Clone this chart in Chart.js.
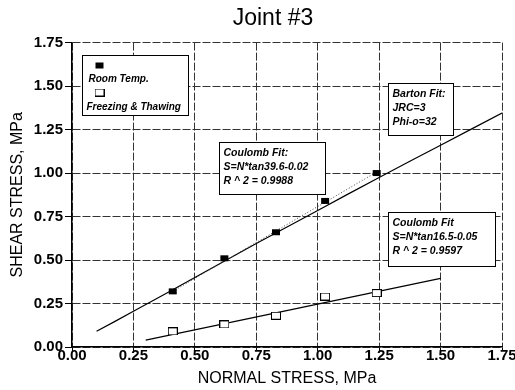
<!DOCTYPE html>
<html>
<head>
<meta charset="utf-8">
<script src="https://cdn.jsdelivr.net/npm/chart.js@4/dist/chart.umd.min.js"></script>
<style>
  html, body { margin: 0; padding: 0; background: #fff; }
  #wrap { width: 515px; height: 390px; }
</style>
</head>
<body>
<div id="wrap"><canvas id="chart" width="515" height="390"></canvas></div>
<script>
// === DATA (normal stress / shear stress, MPa) ===
const roomX = [0.41, 0.62, 0.83, 1.03, 1.24];
const roomY = [0.32, 0.51, 0.66, 0.84, 1.00];
const freezeX = [0.41, 0.62, 0.83, 1.03, 1.24];
const freezeY = [0.09, 0.13, 0.18, 0.29, 0.31];

// Barton fit (JRC=3, Phi-o=32)
const bartonX = [0.10, 0.25, 0.50, 0.75, 1.00, 1.25, 1.50, 1.75];
const bartonY = [0.09, 0.205, 0.40, 0.595, 0.785, 0.975, 1.16, 1.345];

// Coulomb fits
const coulomb1X = [0.41, 1.24];
const coulomb1Y = [0.32, 1.006];
const coulomb2X = [0.30, 1.50];
const coulomb2Y = [0.04, 0.395];

const tickValues = [0, 0.25, 0.5, 0.75, 1.0, 1.25, 1.5, 1.75];

const titleText = "Joint #3";
const xTitle = "NORMAL STRESS, MPa";
const yTitle = "SHEAR STRESS, MPa";
const legendLabels = ["Room Temp.", "Freezing & Thawing"];

// text boxes: [xLeft, yTop, xRight, yBottom] in data units
const bartonBox = [1.286, 1.52, 1.551, 1.22];
const bartonLines = ["Barton Fit:", "JRC=3", "Phi-o=32"];
const coulomb1Box = [0.598, 1.18, 1.03, 0.881];
const coulomb1Lines = ["Coulomb Fit:", "S=N*tan39.6-0.02", "R ^ 2 = 0.9988"];
const coulomb2Box = [1.286, 0.777, 1.722, 0.466];
const coulomb2Lines = ["Coulomb Fit", "S=N*tan16.5-0.05", "R ^ 2 = 0.9597"];
const legendBox = [0.041, 1.681, 0.472, 1.336];

const FONT = "'Liberation Sans', Arial, sans-serif";
const boxFont = "italic bold 10.5px " + FONT;

// little rectangle markers like the scanned plot
function makeMarker(filled) {
  const c = document.createElement("canvas");
  c.width = 10; c.height = 8;
  const g = c.getContext("2d");
  if (filled) {
    g.fillStyle = "#000";
    g.fillRect(1, 1, 8, 6);
  } else {
    g.fillStyle = "#fff";
    g.fillRect(0.5, 0.5, 9, 7);
    g.strokeStyle = "#000";
    g.lineWidth = 1;
    g.strokeRect(0.5, 0.5, 9, 7);
  }
  return c;
}
const filledMark = makeMarker(true);
const hollowMark = makeMarker(false);

const pts = (xs, ys) => xs.map((x, i) => ({ x: x, y: ys[i] }));

// === BOXES PLUGIN ===
const boxesPlugin = {
  id: "boxes",
  afterDatasetsDraw(chart) {
    const { ctx, scales: { x, y } } = chart;
    const rect = (b) => {
      const l = Math.round(x.getPixelForValue(b[0])) + 0.5;
      const t = Math.round(y.getPixelForValue(b[1])) + 0.5;
      const r = Math.round(x.getPixelForValue(b[2])) + 0.5;
      const bt = Math.round(y.getPixelForValue(b[3])) + 0.5;
      ctx.fillStyle = "#fff";
      ctx.fillRect(l, t, r - l, bt - t);
      ctx.strokeStyle = "#000";
      ctx.lineWidth = 1;
      ctx.strokeRect(l, t, r - l, bt - t);
      return { l, t };
    };
    ctx.save();
    ctx.font = boxFont;
    ctx.textBaseline = "middle";
    ctx.textAlign = "left";

    [[bartonBox, bartonLines], [coulomb1Box, coulomb1Lines], [coulomb2Box, coulomb2Lines]].forEach(([b, lines]) => {
      const p = rect(b);
      ctx.fillStyle = "#000";
      lines.forEach((s, i) => ctx.fillText(s, p.l + 4, p.t + 11 + i * 14));
    });

    // legend
    const p = rect(legendBox);
    ctx.drawImage(filledMark, p.l + 12, p.t + 6);
    ctx.drawImage(hollowMark, p.l + 12, p.t + 33);
    ctx.fillStyle = "#000";
    ctx.font = "italic bold 10px " + FONT;
    ctx.fillText(legendLabels[0], p.l + 6, p.t + 24);
    ctx.fillText(legendLabels[1], p.l + 4, p.t + 52);
    ctx.restore();
  }
};

const tickFont = { family: FONT, size: 15, weight: "bold" };

const ctx = document.getElementById("chart").getContext("2d");
new Chart(ctx, {
  type: "scatter",
  data: {
    datasets: [
      { label: legendLabels[0], data: pts(roomX, roomY), pointStyle: filledMark, pointRadius: 5, showLine: false },
      { label: legendLabels[1], data: pts(freezeX, freezeY), pointStyle: hollowMark, pointRadius: 5, showLine: false },
      { label: "Coulomb 1", data: pts(coulomb1X, coulomb1Y), showLine: true, borderColor: "#444", borderWidth: 1, borderDash: [1, 2], pointRadius: 0 },
      { label: "Barton", data: pts(bartonX, bartonY), showLine: true, borderColor: "#000", borderWidth: 1.2, tension: 0.3, pointRadius: 0 },
      { label: "Coulomb 2", data: pts(coulomb2X, coulomb2Y), showLine: true, borderColor: "#000", borderWidth: 1.2, pointRadius: 0 }
    ]
  },
  options: {
    responsive: false,
    animation: false,
    // left padding pushes the title centre to where the scan has it
    layout: { padding: { left: 31, right: 0, top: 0, bottom: 0 } },
    plugins: {
      legend: { display: false },
      tooltip: { enabled: false },
      title: {
        display: true,
        text: titleText,
        color: "#000",
        font: { family: FONT, size: 23, weight: "normal" },
        padding: { top: 5, bottom: 10 }
      }
    },
    scales: {
      x: {
        type: "linear",
        min: 0, max: 1.75,
        afterBuildTicks: (s) => { s.ticks = tickValues.map(v => ({ value: v })); },
        afterFit: (s) => { s.height = 43; s.paddingLeft = 0; s.paddingRight = 13; },
        ticks: { callback: v => v.toFixed(2), color: "#000", font: tickFont, padding: -4, maxRotation: 0, autoSkip: false },
        grid: { color: "#333", lineWidth: 1, tickLength: 4, tickColor: "#000", tickBorderDash: [] },
        border: { display: true, color: "#000", width: 1.5, dash: [8, 2] },
        title: { display: true, text: xTitle, color: "#000", font: { family: FONT, size: 16 }, padding: { top: 0, bottom: 2 } }
      },
      y: {
        type: "linear",
        min: 0, max: 1.75,
        afterBuildTicks: (s) => { s.ticks = tickValues.map(v => ({ value: v })); },
        afterFit: (s) => { s.width = 41; s.paddingTop = 0; s.paddingBottom = 0; },
        ticks: { callback: v => v.toFixed(2), color: "#000", font: tickFont, padding: 2, autoSkip: false },
        grid: { color: "#333", lineWidth: 1, tickLength: 7, tickColor: "#000", tickBorderDash: [] },
        border: { display: true, color: "#000", width: 1.5, dash: [8, 2] },
        title: { display: true, text: yTitle, color: "#000", font: { family: FONT, size: 16 }, padding: { top: -23, bottom: 0 } }
      }
    }
  },
  plugins: [boxesPlugin]
});
</script>
</body>
</html>
